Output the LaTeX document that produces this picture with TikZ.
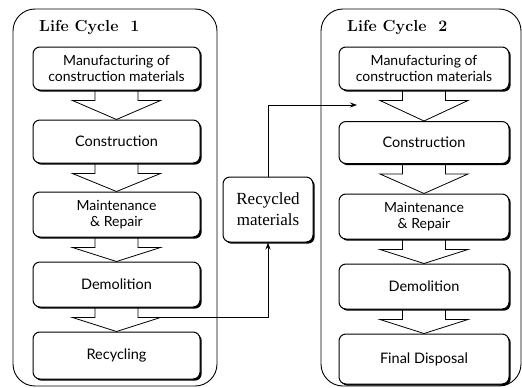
\documentclass[tikz,border=0pt]{standalone}
\usepackage{fontspec}
\newfontfamily\boxfont{Lato}
\newfontfamily\recfont{Liberation Serif}
\usetikzlibrary{calc,arrows.meta,backgrounds}
\begin{document}
\begin{tikzpicture}[x=1pt,y=-1pt,
  container/.style={draw,line width=0.9pt,rounded corners=22pt},
  stepbox/.style={draw,fill=white,line width=1pt,rounded corners=7pt,
     minimum width=167pt,inner sep=1pt,align=center,
     font=\boxfont\fontsize{14.5}{16}\selectfont,
     preaction={fill=black,transform canvas={shift={(1.7pt,-1.7pt)}}}},
  twoline/.style={font=\boxfont\fontsize{14}{16.5}\selectfont},
  blockarrow/.style={draw,fill=white,line width=0.8pt,line join=miter},
  title/.style={anchor=base west,inner sep=0pt,font=\bfseries\fontsize{16}{18}\selectfont},
  conn/.style={draw,line width=0.8pt,-{Stealth[length=7pt,width=5pt]}}
]
\useasboundingbox (0,0) rectangle (522,388);
\newcommand\blkarrow[2]{%
  \path[blockarrow] ($(#1.south)+(-21.5,-3)$) -- ++(0,13) -- ++(-22.5,0) -- (#2.north)
     -- ($(#1.south)+(44,10)$) -- ++(-22.5,0) -- ++(0,-13);}

% containers
\draw[container] (13,9) rectangle (217,386);
\draw[container] (321,9) rectangle (521,386);
\node[title] (t1) at (39,31) {Life Cycle~~1};
\node[title] (t2) at (347,31) {Life Cycle~~2};

% left column
\node[stepbox,twoline,minimum height=43pt] (L1) at (116.5,68.5) {Manufacturing of\\construction materials};
\node[stepbox,minimum height=43pt] (L2) at (116.5,141.5) {Construction};
\node[stepbox,twoline,minimum height=45pt] (L3) at (116.5,214.5) {Maintenance\\\& Repair};
\node[stepbox,minimum height=45pt] (L4) at (116.5,284.5) {Demolition};
\node[stepbox,minimum height=47pt] (L5) at (116.5,355.5) {Recycling};

% right column
\node[stepbox,twoline,minimum width=170pt,minimum height=43pt] (R1) at (424,68.5) {Manufacturing of\\construction materials};
\node[stepbox,minimum width=170pt,minimum height=42pt] (R2) at (424,142.5) {Construction};
\node[stepbox,twoline,minimum width=170pt,minimum height=45pt] (R3) at (424,216.5) {Maintenance\\\& Repair};
\node[stepbox,minimum width=170pt,minimum height=45pt] (R4) at (424,286.5) {Demolition};
\node[stepbox,minimum width=170pt,minimum height=50pt] (R5) at (424,359) {Final Disposal};

% recycled materials
\node[stepbox,minimum width=90pt,minimum height=65pt,font=\recfont\fontsize{17}{21}\selectfont] (rec) at (268,209.5) {Recycled\\materials};

% block arrows (behind the boxes)
\begin{pgfonlayer}{background}
\blkarrow{L1}{L2}
\blkarrow{L2}{L3}
\blkarrow{L3}{L4}
\blkarrow{L4}{L5}
\blkarrow{R1}{R2}
\blkarrow{R2}{R3}
\blkarrow{R3}{R4}
\blkarrow{R4}{R5}
\end{pgfonlayer}

% connectors
\coordinate (src) at ($(L4.south)+(21.5,9.5)$);
\coordinate (tgt) at (357,105);
\draw[conn] (src) -| (rec.south);
\draw[conn] (rec.north) |- (tgt);
\end{tikzpicture}
\end{document}
